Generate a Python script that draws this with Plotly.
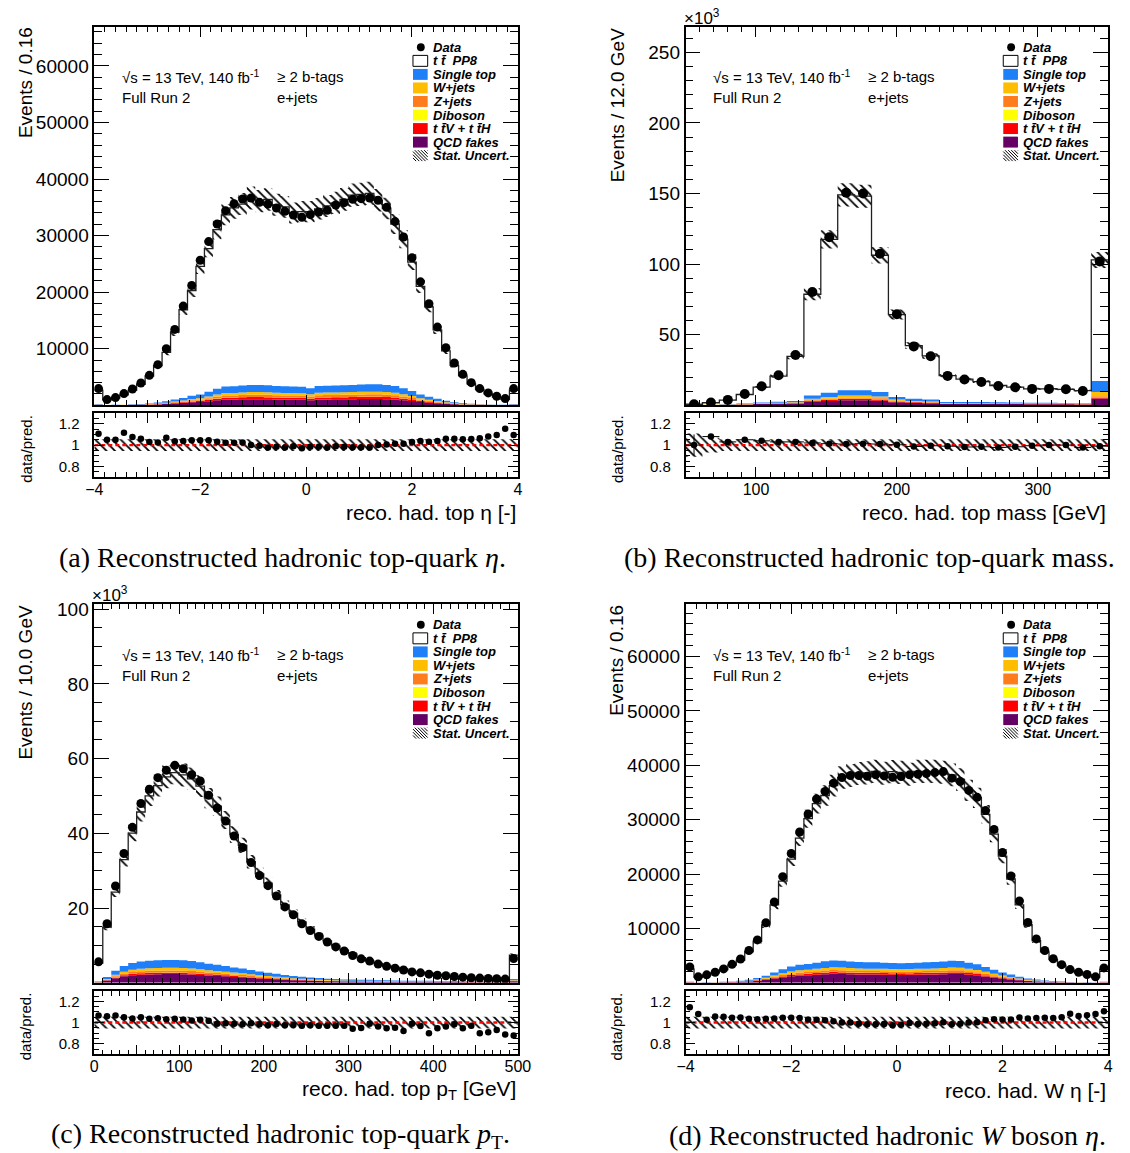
import plotly.graph_objects as go

FIG_W, FIG_H = 1130, 1153


def px(x):
    return x / FIG_W


def py(y):
    return 1 - y / FIG_H


# ---------------- binning ----------------
eta_edges = [round(-4 + 0.16 * i, 2) for i in range(51)]
mass_edges = [50 + 12 * i for i in range(26)]
pt_edges = [10 * i for i in range(51)]

# ---------------- (a) reco. had. top eta (events / bin) ----------------
top_eta_data = [2940, 1000, 1350, 2060, 2880, 3940, 5290, 7180, 10000, 13410,
                17530, 21180, 25650, 28940, 32060, 34410, 35650, 36470, 36650, 35880,
                35590, 34880, 34290, 33650, 33240, 33700, 34180, 34470, 35410, 35820,
                36410, 36530, 36650, 36240, 35000, 32470, 29760, 26060, 21820, 17940,
                13820, 10180, 7470, 5470, 4000, 2940, 2180, 1590, 1180, 2940]
top_eta_ratio = [1.106, 1.05, 1.05, 1.115, 1.077, 1.06, 1.03, 1.025, 1.07, 1.035,
                 1.038, 1.045, 1.045, 1.045, 1.032, 1.022, 1.022, 1.025, 1.0, 0.994,
                 0.978, 0.984, 0.978, 0.99, 0.971, 0.984, 0.984, 0.978, 0.99, 0.984,
                 0.98, 0.98, 0.978, 1.0, 1.006, 1.013, 1.013, 1.03, 1.038, 1.032,
                 1.038, 1.06, 1.06, 1.054, 1.058, 1.064, 1.08, 1.096, 1.154, 1.096]
top_eta_qcd = [60, 18, 24, 33, 48, 69, 99, 144, 210, 300, 390, 510, 570, 720, 870, 990, 1005,
               1050, 1080, 1080, 1065, 1020, 1005, 990, 975, 900, 1020, 1035, 1050, 1065, 1080,
               1095, 1110, 1110, 1080, 1020, 900, 750, 570, 450, 345, 240, 165, 114, 78, 54, 36,
               27, 21, 60]
top_eta_ttv = [20, 6, 8, 11, 16, 23, 33, 48, 70, 100, 130, 170, 190, 240, 290, 330, 335, 350,
               360, 360, 355, 340, 335, 330, 325, 300, 340, 345, 350, 355, 360, 365, 370, 370,
               360, 340, 300, 250, 190, 150, 115, 80, 55, 38, 26, 18, 12, 9, 7, 20]
top_eta_diboson = [2, 1, 1, 1, 2, 2, 3, 5, 7, 10, 13, 17, 19, 24, 29, 33, 34, 35, 36, 36, 36, 34,
                   34, 33, 33, 30, 34, 35, 35, 36, 36, 37, 37, 37, 36, 34, 30, 25, 19, 15, 12, 8,
                   6, 4, 3, 2, 1, 1, 1, 2]
top_eta_zjets = [22, 7, 9, 12, 18, 25, 36, 53, 77, 110, 143, 187, 209, 264, 319, 363, 369, 385,
                 396, 396, 391, 374, 369, 363, 358, 330, 374, 380, 385, 391, 396, 402, 407, 407,
                 396, 374, 330, 275, 209, 165, 127, 88, 61, 42, 29, 20, 13, 10, 8, 22]
top_eta_wjets = [26, 8, 10, 14, 21, 30, 43, 62, 91, 130, 169, 221, 247, 312, 377, 429, 436, 455,
                 468, 468, 462, 442, 436, 429, 423, 390, 442, 449, 455, 462, 468, 475, 481, 481,
                 468, 442, 390, 325, 247, 195, 150, 104, 72, 49, 34, 23, 16, 12, 9, 26]
top_eta_singletop = [70, 21, 28, 39, 56, 81, 116, 168, 245, 350, 455, 595, 665, 840, 1015, 1155,
                     1173, 1225, 1260, 1260, 1243, 1190, 1173, 1155, 1138, 1050, 1190, 1208, 1225,
                     1243, 1260, 1278, 1295, 1295, 1260, 1190, 1050, 875, 665, 525, 403, 280, 193,
                     133, 91, 63, 42, 32, 25, 70]
top_eta_unc = 0.055

# ---------------- (b) reco. had. top mass (10^3 events / bin) ----------------
top_mass_data = [0.7, 1.9, 3.8, 8.0, 13.4, 21.2, 35.6, 80.2, 119.0, 150.5, 150.0, 107.3, 64.4,
                 41.7, 34.7, 20.8, 18.2, 16.5, 13.7, 12.7, 11.6, 11.6, 11.3, 10.1, 101.9]
top_mass_ratio = [1.0, 1.08, 1.03, 1.05, 1.04, 1.03, 1.03, 1.02, 1.013, 1.01, 1.013, 1.01, 1.003,
                  0.987, 0.994, 0.99, 0.982, 0.984, 0.978, 0.984, 0.994, 1.0, 1.0, 0.978, 0.99]
top_mass_ratio_err = [0.1, 0.02, 0.01, 0.01, 0.01, 0.01, 0.005, 0.005, 0.005, 0.005, 0.005, 0.005,
                      0.005, 0.005, 0.005, 0.01, 0.01, 0.01, 0.01, 0.01, 0.01, 0.01, 0.01, 0.01,
                      0.005]
top_mass_qcd = [0.1, 0.15, 0.3, 0.5, 0.8, 1.0, 1.2, 2.4, 3.0, 3.5, 3.5, 3.2, 2.1, 1.6, 1.4, 0.9,
                0.9, 0.9, 0.8, 0.8, 0.7, 0.7, 0.7, 0.6, 4.7]
top_mass_ttv = [0.02, 0.03, 0.06, 0.1, 0.15, 0.2, 0.25, 0.6, 0.8, 1.0, 1.0, 0.9, 0.6, 0.45, 0.4,
                0.25, 0.2, 0.2, 0.2, 0.2, 0.18, 0.17, 0.17, 0.15, 0.8]
top_mass_diboson = [0.005, 0.01, 0.01, 0.02, 0.03, 0.04, 0.05, 0.08, 0.1, 0.1, 0.1, 0.1, 0.06,
                    0.05, 0.04, 0.03, 0.03, 0.03, 0.03, 0.03, 0.02, 0.02, 0.02, 0.02, 0.1]
top_mass_zjets = [0.02, 0.04, 0.07, 0.1, 0.15, 0.2, 0.25, 0.55, 0.7, 0.8, 0.8, 0.7, 0.45, 0.35,
                  0.3, 0.2, 0.2, 0.2, 0.18, 0.17, 0.16, 0.15, 0.15, 0.13, 0.8]
top_mass_wjets = [0.04, 0.06, 0.1, 0.15, 0.25, 0.35, 0.45, 1.0, 1.3, 1.5, 1.5, 1.3, 0.8, 0.6, 0.5,
                  0.3, 0.3, 0.3, 0.28, 0.26, 0.25, 0.24, 0.22, 0.2, 3.0]
top_mass_singletop = [0.08, 0.12, 0.2, 0.35, 0.5, 0.7, 0.9, 2.3, 3.0, 3.7, 3.7, 3.2, 1.9, 1.6,
                      1.4, 0.7, 0.6, 0.6, 0.55, 0.5, 0.45, 0.45, 0.4, 0.35, 7.8]
top_mass_unc = [0.11, 0.07, 0.055, 0.055, 0.055, 0.055, 0.055, 0.055, 0.055, 0.055, 0.055, 0.055,
                0.055, 0.055, 0.055, 0.055, 0.055, 0.055, 0.055, 0.055, 0.055, 0.055, 0.055,
                0.055, 0.055]

# ---------------- (c) reco. had. top pT (10^3 events / bin) ----------------
top_pt_data = [5.6, 15.8, 25.9, 34.6, 41.6, 48.0, 51.8, 54.9, 56.9, 58.2, 57.3, 55.7, 54.0, 50.2,
               46.8, 43.3, 39.3, 36.2, 32.2, 28.7, 26.0, 23.2, 20.3, 18.2, 15.8, 14.0, 12.4, 10.9,
               9.6, 8.5, 7.3, 6.4, 5.8, 5.0, 4.4, 3.9, 3.4, 2.9, 2.65, 2.3, 2.0, 1.86, 1.68, 1.5,
               1.33, 1.24, 1.15, 1.06, 0.97, 6.5]
top_pt_ratio = [1.067, 1.06, 1.067, 1.05, 1.038, 1.05, 1.035, 1.04, 1.032, 1.035, 1.03, 1.02,
                1.026, 1.016, 0.99, 0.994, 0.99, 0.984, 0.994, 0.984, 0.974, 0.987, 0.974, 0.978,
                0.971, 0.974, 0.971, 0.971, 0.971, 0.971, 0.942, 0.949, 0.99, 0.962, 0.946, 0.952,
                0.92, 0.99, 0.968, 0.90, 0.946, 0.962, 0.984, 0.946, 0.971, 0.90, 0.91, 0.93,
                0.888, 0.878]
top_pt_qcd = [0.11, 0.57, 1.22, 1.71, 2.01, 2.17, 2.24, 2.28, 2.32, 2.32, 2.28, 2.2, 2.09, 1.94,
              1.82, 1.71, 1.56, 1.44, 1.29, 1.14, 1.03, 0.91, 0.8, 0.68, 0.61, 0.53, 0.48, 0.42,
              0.38, 0.34, 0.32, 0.3, 0.29, 0.27, 0.25, 0.23, 0.22, 0.21, 0.2, 0.19, 0.18, 0.17,
              0.17, 0.16, 0.15, 0.14, 0.14, 0.13, 0.13, 0.38]
top_pt_ttv = [0.02, 0.09, 0.19, 0.27, 0.32, 0.34, 0.35, 0.36, 0.37, 0.37, 0.36, 0.35, 0.33, 0.31,
              0.29, 0.27, 0.25, 0.23, 0.2, 0.18, 0.16, 0.14, 0.13, 0.11, 0.1, 0.08, 0.08, 0.07,
              0.06, 0.05, 0.05, 0.05, 0.05, 0.04, 0.04, 0.04, 0.03, 0.03, 0.03, 0.03, 0.03, 0.03,
              0.03, 0.03, 0.02, 0.02, 0.02, 0.02, 0.02, 0.06]
top_pt_diboson = [0.003, 0.015, 0.03, 0.045, 0.05, 0.06, 0.06, 0.06, 0.06, 0.06, 0.06, 0.06,
                  0.055, 0.05, 0.05, 0.045, 0.04, 0.04, 0.035, 0.03, 0.027, 0.024, 0.021, 0.018,
                  0.016, 0.014, 0.013, 0.011, 0.01, 0.009, 0.009, 0.008, 0.008, 0.007, 0.007,
                  0.006, 0.006, 0.006, 0.005, 0.005, 0.005, 0.005, 0.004, 0.004, 0.004, 0.004,
                  0.004, 0.004, 0.003, 0.01]
top_pt_zjets = [0.03, 0.14, 0.29, 0.41, 0.48, 0.51, 0.53, 0.54, 0.55, 0.55, 0.54, 0.52, 0.5,
                0.46, 0.43, 0.41, 0.37, 0.34, 0.31, 0.27, 0.24, 0.22, 0.19, 0.16, 0.14, 0.13,
                0.11, 0.1, 0.09, 0.08, 0.08, 0.07, 0.07, 0.06, 0.06, 0.05, 0.05, 0.05, 0.05, 0.05,
                0.04, 0.04, 0.04, 0.04, 0.04, 0.03, 0.03, 0.03, 0.03, 0.09]
top_pt_wjets = [0.04, 0.18, 0.38, 0.54, 0.64, 0.68, 0.71, 0.72, 0.73, 0.73, 0.72, 0.7, 0.66,
                0.61, 0.58, 0.54, 0.49, 0.46, 0.41, 0.36, 0.32, 0.29, 0.25, 0.22, 0.19, 0.17,
                0.15, 0.13, 0.12, 0.11, 0.1, 0.1, 0.09, 0.08, 0.08, 0.07, 0.07, 0.07, 0.06, 0.06,
                0.06, 0.06, 0.05, 0.05, 0.05, 0.05, 0.04, 0.04, 0.04, 0.12]
top_pt_singletop = [0.1, 0.51, 1.09, 1.53, 1.8, 1.94, 2.01, 2.04, 2.07, 2.07, 2.04, 1.97, 1.87,
                    1.73, 1.63, 1.53, 1.39, 1.29, 1.16, 1.02, 0.92, 0.82, 0.71, 0.61, 0.54, 0.48,
                    0.43, 0.37, 0.34, 0.31, 0.29, 0.27, 0.26, 0.24, 0.22, 0.2, 0.19, 0.19, 0.18,
                    0.17, 0.16, 0.16, 0.15, 0.14, 0.14, 0.13, 0.12, 0.12, 0.12, 0.34]
top_pt_unc = 0.055

# ---------------- (d) reco. had. W eta (events / bin) ----------------
w_eta_data = [2910, 1090, 1450, 1940, 2550, 3390, 4360, 5940, 7880, 11030, 14850, 19520, 23770,
              27720, 31060, 33800, 35200, 36720, 37750, 38120, 38120, 37990, 38240, 38050, 37810,
              37930, 38240, 38360, 38480, 38660, 38840, 37630, 37020, 35380, 34100, 31670, 28210,
              23950, 19640, 15030, 11090, 8060, 5940, 4420, 3330, 2420, 1940, 1520, 1090, 2730]
w_eta_ratio = [1.144, 1.08, 1.026, 1.058, 1.054, 1.045, 1.048, 1.035, 1.032, 1.035, 1.038, 1.045,
               1.045, 1.042, 1.029, 1.026, 1.022, 1.013, 1.0, 1.0, 0.99, 0.984, 0.984, 0.987,
               0.974, 0.98, 0.997, 0.987, 0.99, 0.994, 1.003, 0.984, 0.99, 1.0, 1.003, 1.022,
               1.032, 1.029, 1.029, 1.048, 1.038, 1.042, 1.045, 1.042, 1.051, 1.083, 1.061, 1.07,
               1.08, 1.106]
w_eta_qcd = [80, 24, 32, 44, 64, 96, 140, 220, 340, 520, 760, 1000, 1200, 1320, 1380, 1480, 1580,
             1640, 1620, 1560, 1520, 1500, 1500, 1480, 1460, 1440, 1460, 1480, 1500, 1520, 1560,
             1620, 1600, 1480, 1360, 1160, 960, 760, 600, 440, 320, 240, 168, 120, 84, 60, 40, 32,
             24, 80]
w_eta_ttv = [16, 5, 6, 9, 13, 19, 28, 44, 68, 104, 152, 200, 240, 264, 276, 296, 316, 328, 324,
             312, 304, 300, 300, 296, 292, 288, 292, 296, 300, 304, 312, 324, 320, 296, 272, 232,
             192, 152, 120, 88, 64, 48, 34, 24, 17, 12, 8, 6, 5, 16]
w_eta_diboson = [2, 1, 1, 1, 2, 2, 4, 6, 9, 13, 19, 25, 30, 33, 35, 37, 40, 41, 41, 39, 38, 38,
                 38, 37, 37, 36, 37, 37, 38, 38, 39, 41, 40, 37, 34, 29, 24, 19, 15, 11, 8, 6, 4,
                 3, 2, 2, 1, 1, 1, 2]
w_eta_zjets = [16, 5, 6, 9, 13, 19, 28, 44, 68, 104, 152, 200, 240, 264, 276, 296, 316, 328, 324,
               312, 304, 300, 300, 296, 292, 288, 292, 296, 300, 304, 312, 324, 320, 296, 272, 232,
               192, 152, 120, 88, 64, 48, 34, 24, 17, 12, 8, 6, 5, 16]
w_eta_wjets = [24, 7, 10, 13, 19, 29, 42, 66, 102, 156, 228, 300, 360, 396, 414, 444, 474, 492,
               486, 468, 456, 450, 450, 444, 438, 432, 438, 444, 450, 456, 468, 486, 480, 444, 408,
               348, 288, 228, 180, 132, 96, 72, 50, 36, 25, 18, 12, 10, 7, 24]
w_eta_singletop = [62, 19, 25, 34, 50, 74, 109, 171, 264, 403, 589, 775, 930, 1023, 1070, 1147,
                   1225, 1271, 1256, 1209, 1178, 1163, 1163, 1147, 1132, 1116, 1132, 1147, 1163,
                   1178, 1209, 1256, 1240, 1147, 1054, 899, 744, 589, 465, 341, 248, 186, 130, 93,
                   65, 47, 31, 25, 19, 62]
w_eta_unc = 0.055

# ---------------- tick labels ----------------
eta_tickvals = [-4, -3, -2, -1, 0, 1, 2, 3, 4]
eta_ticktext = ["\u22124", "", "\u22122", "", "0", "", "2", "", "4"]
mass_tickvals = [50, 100, 150, 200, 250, 300, 350]
mass_ticktext = ["", "100", "", "200", "", "300", ""]
pt_tickvals = [0, 50, 100, 150, 200, 250, 300, 350, 400, 450, 500]
pt_ticktext = ["0", "", "100", "", "200", "", "300", "", "400", "", "500"]
events_tickvals = [10000, 20000, 30000, 40000, 50000, 60000]
events_ticktext = ["10000", "20000", "30000", "40000", "50000", "60000"]
mass_ytickvals = [50, 100, 150, 200, 250]
pt_ytickvals = [20, 40, 60, 80, 100]
ratio_tickvals = [0.8, 1.0, 1.2]
ratio_ticktext = ["0.8", "1", "1.2"]

# ---------------- style ----------------
SANS = "Liberation Sans"
SERIF = "Liberation Serif"
COLORS = {
    "singletop": "#1f7ff8",
    "wjets": "#ffbd00",
    "zjets": "#ff7c1c",
    "diboson": "#ffff00",
    "ttv": "#ff0000",
    "qcd": "#650065",
}
HATCH = dict(shape="\\", fgcolor="black", bgcolor="rgba(0,0,0,0)", size=6, solidity=0.3,
             fillmode="replace")

COL_X = [(87, 519), (690, 1121)]
MAIN_Y = [(22, 402), (602, 982)]
RATIO_Y = [(410, 474), (990, 1054)]

panels = [
    dict(col=0, row=0, edges=eta_edges, data=top_eta_data, ratio=top_eta_ratio,
         comps=[("qcd", top_eta_qcd), ("ttv", top_eta_ttv), ("diboson", top_eta_diboson),
                ("zjets", top_eta_zjets), ("wjets", top_eta_wjets),
                ("singletop", top_eta_singletop)],
         unc=top_eta_unc, ratio_err=None, xrange=[-4, 4], xtv=eta_tickvals, xtt=eta_ticktext,
         xminor=0.2, ytop=66900, ytv=events_tickvals, ytt=events_ticktext, yminor=2000,
         marker=9, ytitle="Events / 0.16", xtitle="reco. had. top \u03b7 [-]", exp=False,
         caption="(a) Reconstructed hadronic top-quark <i>\u03b7</i>.", cap=(279, 555)),
    dict(col=1, row=0, edges=mass_edges, data=top_mass_data, ratio=top_mass_ratio,
         comps=[("qcd", top_mass_qcd), ("ttv", top_mass_ttv), ("diboson", top_mass_diboson),
                ("zjets", top_mass_zjets), ("wjets", top_mass_wjets),
                ("singletop", top_mass_singletop)],
         unc=top_mass_unc, ratio_err=top_mass_ratio_err, xrange=[50, 350], xtv=mass_tickvals,
         xtt=mass_ticktext, xminor=10, ytop=268, ytv=mass_ytickvals,
         ytt=[str(v) for v in mass_ytickvals], yminor=10, marker=10,
         ytitle="Events / 12.0 GeV", xtitle="reco. had. top mass [GeV]", exp=True,
         caption="(b) Reconstructed hadronic top-quark mass.", cap=(878, 555)),
    dict(col=0, row=1, edges=pt_edges, data=top_pt_data, ratio=top_pt_ratio,
         comps=[("qcd", top_pt_qcd), ("ttv", top_pt_ttv), ("diboson", top_pt_diboson),
                ("zjets", top_pt_zjets), ("wjets", top_pt_wjets),
                ("singletop", top_pt_singletop)],
         unc=top_pt_unc, ratio_err=None, xrange=[0, 500], xtv=pt_tickvals, xtt=pt_ticktext,
         xminor=10, ytop=101.3, ytv=pt_ytickvals, ytt=[str(v) for v in pt_ytickvals],
         yminor=5, marker=9, ytitle="Events / 10.0 GeV",
         xtitle="reco. had. top p<sub>T</sub> [GeV]", exp=True,
         caption="(c) Reconstructed hadronic top-quark <i>p</i><sub>T</sub>.", cap=(277, 1135)),
    dict(col=1, row=1, edges=eta_edges, data=w_eta_data, ratio=w_eta_ratio,
         comps=[("qcd", w_eta_qcd), ("ttv", w_eta_ttv), ("diboson", w_eta_diboson),
                ("zjets", w_eta_zjets), ("wjets", w_eta_wjets),
                ("singletop", w_eta_singletop)],
         unc=w_eta_unc, ratio_err=None, xrange=[-4, 4], xtv=eta_tickvals, xtt=eta_ticktext,
         xminor=0.2, ytop=69600, ytv=events_tickvals, ytt=events_ticktext, yminor=2000,
         marker=9, ytitle="Events / 0.16", xtitle="reco. had. W \u03b7 [-]", exp=False,
         caption="(d) Reconstructed hadronic <i>W</i> boson <i>\u03b7</i>.", cap=(896, 1135)),
]


def axname(letter, n):
    return letter if n == 1 else f"{letter}{n}"


def axkey(letter, n):
    return f"{letter}axis" if n == 1 else f"{letter}axis{n}"


def steps(vals):
    return list(vals) + [vals[-1]]


fig = go.Figure()
layout_axes = {}
annotations = []
shapes = []

for i, p in enumerate(panels):
    nm, nr = 2 * i + 1, 2 * i + 2
    xm, ym, xr, yr = axname("x", nm), axname("y", nm), axname("x", nr), axname("y", nr)
    edges = p["edges"]
    nb = len(edges) - 1
    centers = [(edges[j] + edges[j + 1]) / 2 for j in range(nb)]
    unc = p["unc"] if isinstance(p["unc"], list) else [p["unc"]] * nb
    pred = [d / r for d, r in zip(p["data"], p["ratio"])]

    # stacked backgrounds (bottom to top)
    cum = [0.0] * nb
    for j, (name, vals) in enumerate(p["comps"]):
        cum = [c + v for c, v in zip(cum, vals)]
        fig.add_trace(go.Scatter(
            x=edges, y=steps(cum), mode="lines", line=dict(width=0, shape="hv"),
            fill="tozeroy" if j == 0 else "tonexty", fillcolor=COLORS[name],
            xaxis=xm, yaxis=ym, hoverinfo="skip", showlegend=False))

    # statistical uncertainty band on the total prediction
    lo = [pr * (1 - u) for pr, u in zip(pred, unc)]
    hi = [pr * (1 + u) for pr, u in zip(pred, unc)]
    fig.add_trace(go.Scatter(x=edges, y=steps(lo), mode="lines",
                             line=dict(width=0, shape="hv"), xaxis=xm, yaxis=ym,
                             hoverinfo="skip", showlegend=False))
    fig.add_trace(go.Scatter(x=edges, y=steps(hi), mode="lines",
                             line=dict(width=0, shape="hv"), fill="tonexty",
                             fillcolor="rgba(0,0,0,0)", fillpattern=HATCH,
                             xaxis=xm, yaxis=ym, hoverinfo="skip", showlegend=False))

    # total prediction (ttbar on top of the stack) outline
    fig.add_trace(go.Scatter(x=edges, y=steps(pred), mode="lines",
                             line=dict(width=1.3, color="#202020", shape="hv"),
                             xaxis=xm, yaxis=ym, hoverinfo="skip", showlegend=False))

    # data
    fig.add_trace(go.Scatter(x=centers, y=p["data"], mode="markers",
                             marker=dict(size=p["marker"], color="black"),
                             xaxis=xm, yaxis=ym, showlegend=False))

    # ratio panel
    fig.add_trace(go.Scatter(x=edges, y=steps([1 - u for u in unc]), mode="lines",
                             line=dict(width=0, shape="hv"), xaxis=xr, yaxis=yr,
                             hoverinfo="skip", showlegend=False))
    fig.add_trace(go.Scatter(x=edges, y=steps([1 + u for u in unc]), mode="lines",
                             line=dict(width=0, shape="hv"), fill="tonexty",
                             fillcolor="rgba(0,0,0,0)", fillpattern=HATCH,
                             xaxis=xr, yaxis=yr, hoverinfo="skip", showlegend=False))
    fig.add_trace(go.Scatter(x=[edges[0], edges[-1]], y=[1, 1], mode="lines",
                             line=dict(color="#ff0000", width=2.4, dash="4px,3px"),
                             xaxis=xr, yaxis=yr, hoverinfo="skip", showlegend=False))
    ratio_kw = {}
    if p["ratio_err"] is not None:
        half = (edges[1] - edges[0]) / 2
        ratio_kw = dict(
            error_x=dict(type="constant", value=half, thickness=1, width=0, color="black"),
            error_y=dict(type="data", array=p["ratio_err"], thickness=1, width=0,
                         color="black"))
    fig.add_trace(go.Scatter(x=centers, y=p["ratio"], mode="markers",
                             marker=dict(size=6.5, color="black"),
                             xaxis=xr, yaxis=yr, showlegend=False, **ratio_kw))

    # ---- axes ----
    x0, x1 = COL_X[p["col"]]
    my0, my1 = MAIN_Y[p["row"]]
    ry0, ry1 = RATIO_Y[p["row"]]
    frame = dict(showline=True, mirror="allticks", linecolor="black", linewidth=1.6,
                 ticks="inside", tickcolor="black", tickwidth=1, showgrid=False,
                 zeroline=False, fixedrange=True)
    xcommon = dict(frame, range=p["xrange"], tickmode="array", tickvals=p["xtv"],
                   ticktext=p["xtt"], ticklen=10,
                   minor=dict(ticks="inside", ticklen=5, tickmode="linear", tick0=0,
                              dtick=p["xminor"], tickcolor="black", tickwidth=1,
                              showgrid=False))
    layout_axes[axkey("x", nm)] = dict(xcommon, domain=[px(x0), px(x1)], anchor=ym,
                                       showticklabels=False)
    layout_axes[axkey("x", nr)] = dict(xcommon, domain=[px(x0), px(x1)], anchor=yr,
                                       showticklabels=True, ticklabelstandoff=-3,
                                       tickfont=dict(family=SANS, size=16, color="black"))
    layout_axes[axkey("y", nm)] = dict(
        frame, domain=[py(my1), py(my0)], anchor=xm, range=[0, p["ytop"]], tickmode="array",
        tickvals=p["ytv"], ticktext=p["ytt"], ticklen=15,
        tickfont=dict(family=SANS, size=19, color="black"),
        minor=dict(ticks="inside", ticklen=8, tickmode="linear", tick0=0, dtick=p["yminor"],
                   tickcolor="black", tickwidth=1, showgrid=False))
    layout_axes[axkey("y", nr)] = dict(
        frame, domain=[py(ry1), py(ry0)], anchor=xr, range=[0.7, 1.3], tickmode="array",
        tickvals=ratio_tickvals, ticktext=ratio_ticktext, ticklen=10,
        ticklabelstandoff=10,
        tickfont=dict(family=SANS, size=15, color="black"),
        minor=dict(ticks="inside", ticklen=5, tickmode="linear", tick0=0, dtick=0.05,
                   tickcolor="black", tickwidth=1, showgrid=False))

    # ---- axis titles ----
    annotations.append(dict(x=px(x0 - 70), y=py(my0 - 2), xref="paper", yref="paper",
                            text=p["ytitle"], textangle=-90, showarrow=False,
                            xanchor="center", yanchor="top",
                            font=dict(family=SANS, size=19, color="black")))
    annotations.append(dict(x=px(x0 - 70), y=py((ry0 + ry1) / 2 + 4), xref="paper",
                            yref="paper", text="data/pred.", textangle=-90, showarrow=False,
                            xanchor="center", yanchor="middle",
                            font=dict(family=SANS, size=15, color="black")))
    annotations.append(dict(x=px(x1), y=py(ry1 + 36), xref="paper", yref="paper",
                            text=p["xtitle"], showarrow=False, xanchor="right",
                            yanchor="middle", font=dict(family=SANS, size=21, color="black")))
    if p["exp"]:
        annotations.append(dict(x=px(x0 - 4), y=py(my0 - 10), xref="paper", yref="paper",
                                text="\u00d710<sup>3</sup>", showarrow=False, xanchor="left",
                                yanchor="middle",
                                font=dict(family=SANS, size=17, color="black")))

    # ---- labels inside the frame ----
    tx = x0 + 26
    for txt, xx, yy in [("\u221as = 13 TeV, 140 fb<sup>-1</sup>", tx, my0 + 50),
                        ("Full Run 2", tx, my0 + 71),
                        ("\u2265 2 b-tags", tx + 158, my0 + 50),
                        ("e+jets", tx + 158, my0 + 71)]:
        annotations.append(dict(x=px(xx), y=py(yy), xref="paper", yref="paper", text=txt,
                                showarrow=False, xanchor="left", yanchor="middle",
                                font=dict(family=SANS, size=15, color="black")))

    # ---- legend ----
    gx0 = x1 - 107
    gy = my0 + 20.5
    entries = [("Data", "dot"), ("t t\u0304  PP8", "ttbar"), ("Single top", "singletop"),
               ("W+jets", "wjets"), ("Z+jets", "zjets"), ("Diboson", "diboson"),
               ("t t\u0304V + t t\u0304H", "ttv"), ("QCD fakes", "qcd"),
               ("Stat. Uncert.", "hatch")]
    for k, (label, kind) in enumerate(entries):
        cy = gy + 13.6 * k
        bx0, bx1, by0, by1 = gx0, gx0 + 15, cy - 5.5, cy + 5.5
        if kind == "dot":
            shapes.append(dict(type="circle", xref="paper", yref="paper",
                               x0=px(gx0 + 4), x1=px(gx0 + 12), y0=py(cy + 4), y1=py(cy - 4),
                               fillcolor="black", line=dict(width=0)))
        elif kind == "ttbar":
            shapes.append(dict(type="rect", xref="paper", yref="paper", x0=px(bx0),
                               x1=px(bx1), y0=py(by1), y1=py(by0), fillcolor="white",
                               line=dict(color="black", width=1)))
        elif kind == "hatch":
            c = bx0 - by1
            while c < bx1 - by0:
                ya = max(by0, bx0 - c)
                yb = min(by1, bx1 - c)
                if yb > ya:
                    shapes.append(dict(type="line", xref="paper", yref="paper",
                                       x0=px(ya + c), y0=py(ya), x1=px(yb + c), y1=py(yb),
                                       line=dict(color="black", width=1)))
                c += 3.2
        else:
            shapes.append(dict(type="rect", xref="paper", yref="paper", x0=px(bx0),
                               x1=px(bx1), y0=py(by1), y1=py(by0), fillcolor=COLORS[kind],
                               line=dict(width=0)))
        annotations.append(dict(x=px(gx0 + 18), y=py(cy), xref="paper", yref="paper",
                                text=f"<b><i>{label}</i></b>", showarrow=False,
                                xanchor="left", yanchor="middle",
                                font=dict(family=SANS, size=13, color="black")))

    # ---- caption ----
    cap_x, cap_y = p["cap"]
    annotations.append(dict(x=px(cap_x), y=py(cap_y), xref="paper", yref="paper",
                            text=p["caption"], showarrow=False, xanchor="center",
                            yanchor="middle", font=dict(family=SERIF, size=28, color="black")))

fig.update_layout(
    width=FIG_W, height=FIG_H, margin=dict(l=0, r=0, t=0, b=0),
    paper_bgcolor="white", plot_bgcolor="white", showlegend=False,
    font=dict(family=SANS, color="black"),
    annotations=annotations, shapes=shapes, **layout_axes)

fig.write_html("out.html")
